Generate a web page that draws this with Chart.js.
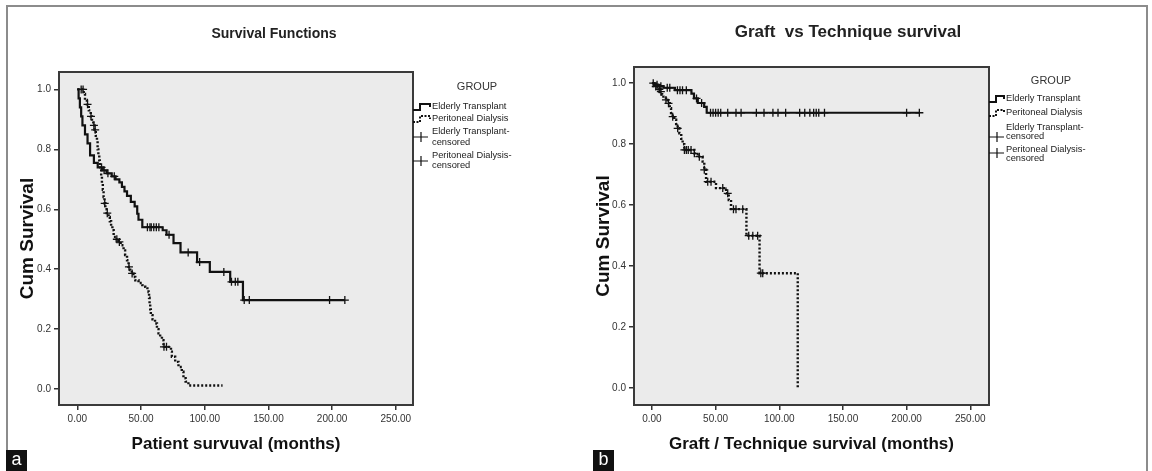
<!DOCTYPE html>
<html>
<head>
<meta charset="utf-8">
<script src="https://cdn.jsdelivr.net/npm/chart.js@4.4.1/dist/chart.umd.min.js"></script>
<style>
body { margin: 0; background: #fff; }
#page { position: relative; width: 1152px; height: 471px; overflow: hidden; font-family: "Liberation Sans", Arial, sans-serif; }
#frame { position: absolute; left: 6px; top: 5px; width: 1138px; height: 470px; border: 2px solid #8c8c8c; border-bottom: none; }
canvas { position: absolute; top: 0; }
.title { position: absolute; font-weight: bold; color: #222; white-space: pre; transform: translate(-50%, -50%); }
.group { position: absolute; font-size: 11px; color: #333; transform: translate(-50%, -50%); }
.leg { position: absolute; font-size: 9.3px; color: #222; white-space: nowrap; transform: translateY(-50%); line-height: 1; }
.tag { position: absolute; top: 450px; width: 21px; height: 21px; background: #111; color: #fff; font-size: 18px; line-height: 19px; text-align: center; }
svg { position: absolute; left: 0; top: 0; }
</style>
</head>
<body>
<div id="page">
  <div id="frame"></div>
  <canvas id="chartA" width="576" height="471" style="left:0"></canvas>
  <canvas id="chartB" width="576" height="471" style="left:576px"></canvas>

  <div class="title" style="left:274px; top:33px; font-size:14px;">Survival Functions</div>
  <div class="title" style="left:848px; top:32px; font-size:17px;">Graft  vs Technique survival</div>

  <div class="group" style="left:477px; top:86px;">GROUP</div>
  <div class="leg" style="left:432px; top:107px;">Elderly Transplant</div>
  <div class="leg" style="left:432px; top:119px;">Peritoneal Dialysis</div>
  <div class="leg" style="left:432px; top:132px;">Elderly Transplant-</div>
  <div class="leg" style="left:432px; top:143px;">censored</div>
  <div class="leg" style="left:432px; top:156px;">Peritoneal Dialysis-</div>
  <div class="leg" style="left:432px; top:166px;">censored</div>

  <div class="group" style="left:1051px; top:80px;">GROUP</div>
  <div class="leg" style="left:1006px; top:99px;">Elderly Transplant</div>
  <div class="leg" style="left:1006px; top:113px;">Peritoneal Dialysis</div>
  <div class="leg" style="left:1006px; top:128px;">Elderly Transplant-</div>
  <div class="leg" style="left:1006px; top:137px;">censored</div>
  <div class="leg" style="left:1006px; top:150px;">Peritoneal Dialysis-</div>
  <div class="leg" style="left:1006px; top:159px;">censored</div>

  <svg width="1152" height="471">
    <g fill="none" stroke="#111">
      <path d="M413,110 H420 V104 H430 V107" stroke-width="2"/>
      <path d="M413,122 H420 V116 H430 V119" stroke-width="2" stroke-dasharray="2,1.5"/>
      <path d="M413,137 H428 M421,132 V142" stroke-width="1.2"/>
      <path d="M413,161 H428 M421,156 V166" stroke-width="1.2"/>
      <path d="M989,102 H996 V96 H1004 V99" stroke-width="2"/>
      <path d="M989,116 H996 V110 H1004 V113" stroke-width="2" stroke-dasharray="2,1.5"/>
      <path d="M989,137 H1004 M997,132 V142" stroke-width="1.2"/>
      <path d="M989,153 H1004 M997,148 V158" stroke-width="1.2"/>
    </g>
  </svg>

  <div class="tag" style="left:6px;">a</div>
  <div class="tag" style="left:593px;">b</div>
</div>
<script>
// panel a: patient survival
var patTxTime = [0, 1, 2, 3, 4, 6, 8, 10, 13, 16, 20, 23, 27, 30, 33, 35, 37, 39, 42, 45, 47, 48, 51, 67, 70, 75.5, 81, 94, 104, 120, 130, 210];
var patTxSurv = [1.0, 0.97, 0.94, 0.91, 0.88, 0.85, 0.82, 0.78, 0.755, 0.74, 0.73, 0.72, 0.71, 0.70, 0.69, 0.675, 0.66, 0.645, 0.625, 0.61, 0.585, 0.565, 0.54, 0.53, 0.515, 0.487, 0.456, 0.424, 0.391, 0.358, 0.297, 0.297];
var patTxCens = [19, 21, 24, 29, 55, 57, 58, 60, 62, 64, 72, 87, 96, 115, 121, 124, 126, 131, 135, 198, 210];

var patPdTime = [0, 5, 6, 7.5, 9, 10.5, 11.5, 12.5, 13.5, 14.5, 15.4, 15.9, 16.5, 17.2, 17.6, 18, 18.7, 19.3, 20, 20.6, 21.3, 22, 23, 24.5, 25.5, 26.5, 27.5, 28.5, 30.5, 32.4, 34, 36.3, 37.5, 39, 40.2, 41.5, 42.8, 44, 45.5, 48, 51, 53.3, 55, 55.9, 56.3, 56.7, 57.2, 57.7, 59, 61, 62.5, 63.7, 65, 66.4, 67.6, 73.5, 74.2, 76.8, 79.4, 82, 83.3, 85, 87.2, 114];
var patPdSurv = [1.0, 0.985, 0.965, 0.95, 0.93, 0.91, 0.895, 0.88, 0.865, 0.845, 0.83, 0.80, 0.78, 0.763, 0.745, 0.73, 0.71, 0.686, 0.665, 0.641, 0.62, 0.60, 0.587, 0.574, 0.56, 0.545, 0.53, 0.508, 0.50, 0.491, 0.48, 0.463, 0.447, 0.43, 0.408, 0.397, 0.386, 0.374, 0.363, 0.354, 0.347, 0.341, 0.332, 0.324, 0.305, 0.286, 0.266, 0.247, 0.233, 0.219, 0.20, 0.186, 0.175, 0.163, 0.141, 0.125, 0.108, 0.091, 0.074, 0.058, 0.036, 0.025, 0.012, 0.012];
var patPdCens = [3, 4.5, 8, 10.7, 13, 14, 21.5, 23.5, 31, 33, 40.5, 43, 68, 70];

// panel b: graft / technique survival
var grTxTime = [0, 2, 5, 9, 18, 31, 33, 36, 41, 43, 210];
var grTxSurv = [1.0, 0.995, 0.99, 0.985, 0.977, 0.966, 0.95, 0.935, 0.922, 0.903, 0.903];
var grTxCens = [4, 7, 12, 14, 20, 22, 24, 27, 35, 39, 46, 48, 50, 52, 54, 59.5, 66, 70, 82, 88, 95, 99, 105, 116, 120, 124, 127, 129, 131, 135.5, 200, 210];

var grPdTime = [0, 2, 3, 5, 6, 8, 9, 11, 12.3, 14, 15, 16.3, 17.5, 19, 20.2, 21.5, 23, 24.1, 25.4, 33.3, 35.9, 39.8, 41.1, 42.5, 50.3, 58.2, 60.3, 62.1, 74.2, 84.5, 114.5];
var grPdSurv = [1.0, 0.995, 0.989, 0.98, 0.972, 0.963, 0.956, 0.945, 0.934, 0.918, 0.902, 0.89, 0.88, 0.866, 0.852, 0.836, 0.818, 0.80, 0.781, 0.77, 0.759, 0.743, 0.716, 0.677, 0.656, 0.639, 0.617, 0.587, 0.50, 0.377, 0.0];
var grPdCens = [1, 3, 5.8, 7, 11, 13, 16.3, 20.2, 25.5, 27, 28.5, 30.7, 33.3, 37.2, 41.1, 43.8, 46.4, 55.6, 59.5, 64, 66, 71.3, 76, 79.2, 83, 85.5, 87];

var xTicks = [0, 50, 100, 150, 200, 250];
var yTicks = [0, 0.2, 0.4, 0.6, 0.8, 1.0];

var ink = '#111';
var family = '"Liberation Sans", Arial, sans-serif';

function steps(times, surv) {
    return times.map(function(t, i) {
        return { x: t, y: surv[i] };
    });
}

// censor marks sit on the curve: value of the step in force at that time
function cens(marks, times, surv) {
    return marks.map(function(t) {
        var s = surv[0];
        for (var i = 0; i < times.length; i++) {
            if (times[i] <= t) s = surv[i];
        }
        return { x: t, y: s };
    });
}

var plotBox = {
    id: 'plotBox',
    beforeDraw: function(chart) {
        var a = chart.chartArea, ctx = chart.ctx;
        ctx.save();
        ctx.fillStyle = '#ebebeb';
        ctx.fillRect(a.left, a.top, a.right - a.left, a.bottom - a.top);
        ctx.restore();
    },
    beforeDatasetsDraw: function(chart) {
        var a = chart.chartArea, ctx = chart.ctx;
        ctx.save();
        ctx.strokeStyle = '#3a3a3a';
        ctx.lineWidth = 2;
        ctx.strokeRect(a.left, a.top, a.right - a.left, a.bottom - a.top);
        ctx.restore();
    }
};

function panel(id, o) {
    var config = {
        type: 'scatter',
        data: {
            datasets: [{
                data: steps(o.txT, o.txS),
                showLine: true,
                stepped: true,
                borderColor: ink,
                borderWidth: 2.2,
                pointRadius: 0
            }, {
                data: steps(o.pdT, o.pdS),
                showLine: true,
                stepped: true,
                borderColor: ink,
                borderWidth: 2.4,
                borderDash: [2, 2],
                pointRadius: 0
            }, {
                data: cens(o.txC, o.txT, o.txS),
                pointStyle: 'cross',
                pointRadius: 4,
                borderWidth: 1.3,
                borderColor: ink
            }, {
                data: cens(o.pdC, o.pdT, o.pdS),
                pointStyle: 'cross',
                pointRadius: 4,
                borderWidth: 1.3,
                borderColor: ink
            }]
        },
        options: {
            responsive: false,
            animation: false,
            events: [],
            layout: { padding: { left: 0, top: o.top, right: 163, bottom: 12 } },
            plugins: {
                legend: { display: false },
                tooltip: { enabled: false },
                title: { display: false }
            },
            scales: {
                x: {
                    type: 'linear',
                    min: o.xMin,
                    max: o.xMax,
                    afterBuildTicks: function(s) {
                        s.ticks = xTicks.map(function(v) { return { value: v }; });
                    },
                    afterFit: function(s) { s.height = 54; },
                    grid: { drawOnChartArea: false, drawTicks: true, tickLength: 5, color: '#333', lineWidth: 1.5 },
                    border: { display: false },
                    ticks: {
                        autoSkip: false,
                        maxRotation: 0,
                        padding: 3,
                        color: '#333',
                        font: { size: 10, family: family },
                        callback: function(v) { return v.toFixed(2); }
                    },
                    title: {
                        display: true,
                        text: o.xTitle,
                        color: ink,
                        font: { size: 17, weight: 'bold', family: family },
                        padding: { top: 0, bottom: 4 }
                    }
                },
                y: {
                    type: 'linear',
                    min: o.yMin,
                    max: o.yMax,
                    afterBuildTicks: function(s) {
                        s.ticks = yTicks.map(function(v) { return { value: v }; });
                    },
                    afterFit: function(s) { s.width = o.yWidth; },
                    grid: { drawOnChartArea: false, drawTicks: true, tickLength: 5, color: '#333', lineWidth: 1.5 },
                    border: { display: false },
                    ticks: {
                        padding: 3,
                        color: '#333',
                        font: { size: 10, family: family },
                        callback: function(v) { return v.toFixed(1); }
                    },
                    title: {
                        display: true,
                        text: 'Cum Survival',
                        color: ink,
                        font: { size: 19, weight: 'bold', family: family },
                        padding: { top: 16, bottom: 0 }
                    }
                }
            }
        },
        plugins: [plotBox]
    };
    return new Chart(document.getElementById(id), config);
}

var chartA = panel('chartA', {
    txT: patTxTime, txS: patTxSurv, txC: patTxCens,
    pdT: patPdTime, pdS: patPdSurv, pdC: patPdCens,
    xTitle: 'Patient survuval (months)',
    top: 72, yWidth: 59,
    xMin: -14.4, xMax: 263.5, yMin: -0.053, yMax: 1.058
});

var chartB = panel('chartB', {
    txT: grTxTime, txS: grTxSurv, txC: grTxCens,
    pdT: grPdTime, pdS: grPdSurv, pdC: grPdCens,
    xTitle: 'Graft / Technique survival (months)',
    top: 67, yWidth: 58,
    xMin: -14.1, xMax: 264.7, yMin: -0.055, yMax: 1.053
});
</script>
</body>
</html>
